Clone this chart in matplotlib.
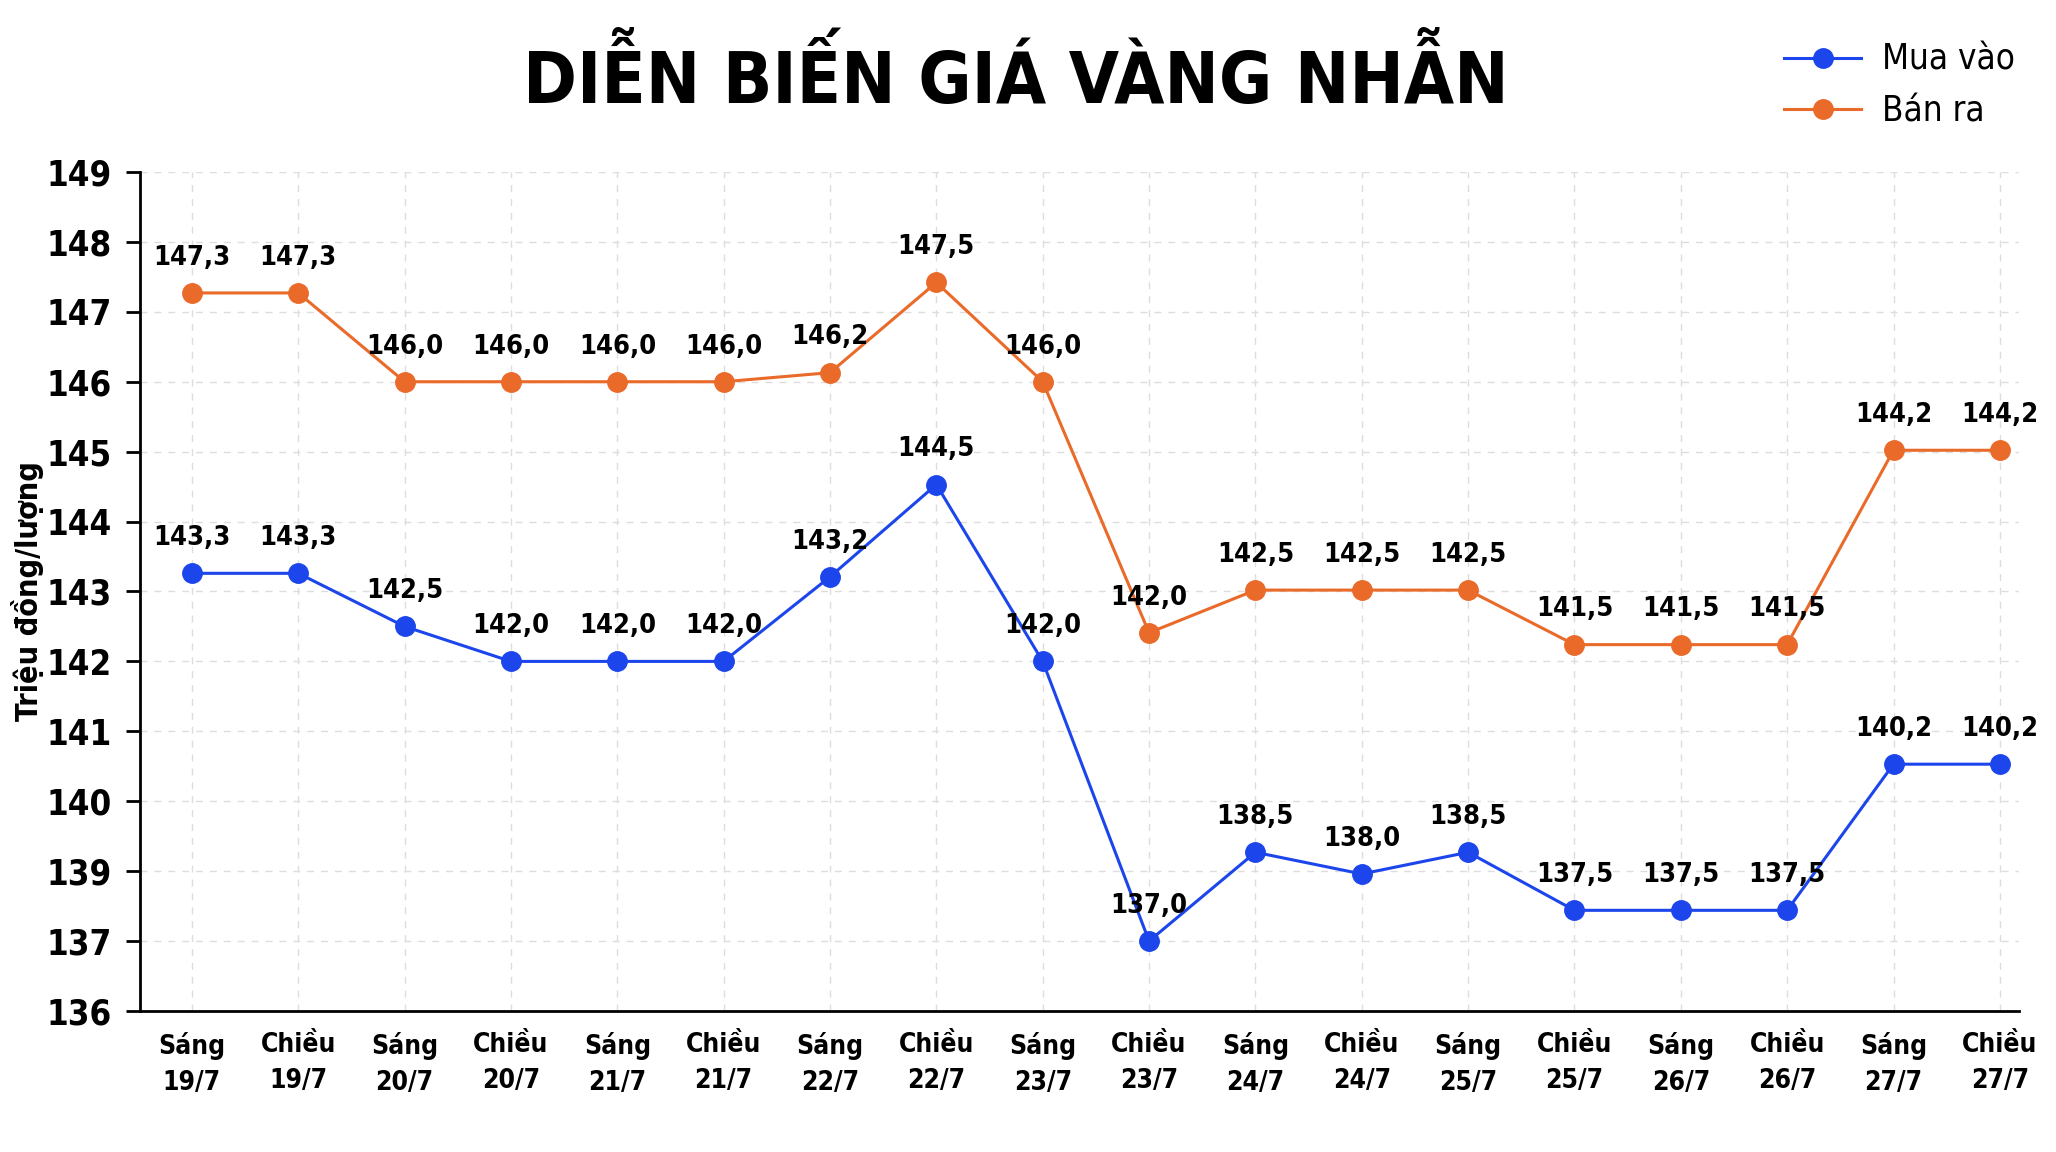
import matplotlib
matplotlib.use("Agg")
import matplotlib.pyplot as plt
import numpy as np

# Nhãn trục x
buoi = ["Sáng", "Chiều"] * 9
ngay = ["19/7", "19/7", "20/7", "20/7", "21/7", "21/7", "22/7", "22/7", "23/7",
        "23/7", "24/7", "24/7", "25/7", "25/7", "26/7", "26/7", "27/7", "27/7"]
x_labels = [f"{b}\n{d}" for b, d in zip(buoi, ngay)]

# Giá trị ghi trên nhãn (triệu đồng/lượng)
mua_vao = [143.3, 143.3, 142.5, 142.0, 142.0, 142.0, 143.2, 144.5, 142.0,
           137.0, 138.5, 138.0, 138.5, 137.5, 137.5, 137.5, 140.2, 140.2]
ban_ra = [147.3, 147.3, 146.0, 146.0, 146.0, 146.0, 146.2, 147.5, 146.0,
          142.0, 142.5, 142.5, 142.5, 141.5, 141.5, 141.5, 144.2, 144.2]

# Vị trí điểm đọc trên lưới của biểu đồ gốc
mua_vao_muc = [143.26, 143.26, 142.5, 142.0, 142.0, 142.0, 143.21, 144.53, 142.0,
               138.0, 139.27, 138.96, 139.27, 138.44, 138.44, 138.44, 140.53, 140.53]
ban_ra_muc = [147.27, 147.27, 146.0, 146.0, 146.0, 146.0, 146.13, 147.42, 146.0,
              142.41, 143.02, 143.02, 143.02, 142.24, 142.24, 142.24, 145.02, 145.02]

# Nhãn trục y như trong ảnh gốc (không có 138)
y_ticks = [137, 138, 139, 140, 141, 142, 143, 144, 145, 146, 147, 148, 149]
y_tick_labels = ["136", "137", "139", "140", "141", "142", "143", "144",
                 "145", "146", "147", "148", "149"]

plt.rcParams['font.family'] = ['DejaVu Sans']
plt.rcParams['font.stretch'] = 'condensed'

BLUE = "#1c46ec"
ORANGE = "#ea6a2a"

fig = plt.figure(figsize=(20.56, 11.52), dpi=100)
ax = fig.add_axes([0.068, 0.1224, 0.914, 0.7283])

x = np.arange(len(x_labels))
ax.plot(x, mua_vao_muc, color=BLUE, lw=2.2, marker="o", ms=14, label="Mua vào", zorder=3)
ax.plot(x, ban_ra_muc, color=ORANGE, lw=2.2, marker="o", ms=14, label="Bán ra", zorder=3)

for xi, yi, v in zip(x, mua_vao_muc, mua_vao):
    ax.annotate(f"{v:.1f}".replace(".", ","), (xi, yi), xytext=(0, 16),
                textcoords="offset points", ha="center", va="bottom",
                fontsize=19.5, fontweight="bold")
for xi, yi, v in zip(x, ban_ra_muc, ban_ra):
    ax.annotate(f"{v:.1f}".replace(".", ","), (xi, yi), xytext=(0, 16),
                textcoords="offset points", ha="center", va="bottom",
                fontsize=19.5, fontweight="bold")

ax.set_xlim(-0.49, 17.18)
ax.set_ylim(137, 149)
ax.set_xticks(x)
ax.set_xticklabels(x_labels, fontsize=19, fontweight="bold", linespacing=1.5)
ax.set_yticks(y_ticks)
ax.set_yticklabels(y_tick_labels, fontsize=25, fontweight="bold")
ax.tick_params(axis="x", length=0, pad=15)
ax.tick_params(axis="y", length=10, width=2, pad=10)

ax.grid(True, ls=(0, (5, 5)), color="#dddddd", lw=1)
ax.set_axisbelow(True)
for s in ["top", "right"]:
    ax.spines[s].set_visible(False)
for s in ["left", "bottom"]:
    ax.spines[s].set_linewidth(2)

ax.set_ylabel("Triệu đồng/lượng", fontsize=22, fontweight="bold")
ax.yaxis.set_label_coords(-0.051, 0.5)

fig.text(0.494, 0.931, "DIỄN BIẾN GIÁ VÀNG NHẪN", ha="center", va="center",
         fontsize=52, fontweight="bold")

fig.legend(loc="upper right", bbox_to_anchor=(0.995, 0.99), frameon=False,
           fontsize=25, handlelength=2.2, labelspacing=0.5, handletextpad=0.6)

fig.savefig("out.png", dpi=100, facecolor="white")
